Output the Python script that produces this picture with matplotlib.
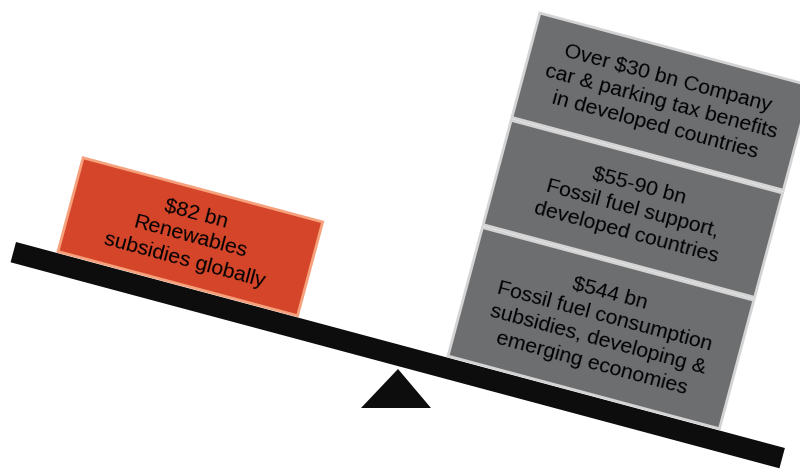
import numpy as np
import matplotlib
matplotlib.use("Agg")
import matplotlib.pyplot as plt
from matplotlib.patches import Polygon

# Labels for the two sides of the scale
left_labels = ["$82 bn\nRenewables\nsubsidies globally"]
right_labels = [
    "$544 bn\nFossil fuel consumption\nsubsidies, developing &\nemerging economies",
    "$55-90 bn\nFossil fuel support,\ndeveloped countries",
    "Over $30 bn Company\ncar & parking tax benefits\nin developed countries",
]

TILT = 15.0  # degrees the beam tips down to the right
ORANGE = "#d4452a"
ORANGE_EDGE = "#f6a07c"
GREY = "#6d6e70"
GREY_EDGE = "#d4d4d4"

theta = np.deg2rad(TILT)
u = np.array([np.cos(theta), np.sin(theta)])      # along the beam (pixel coords, y down)
up = np.array([np.sin(theta), -np.cos(theta)])    # perpendicular, pointing up


def tilted_box(origin, width, height):
    o = np.asarray(origin, float)
    return np.array([o, o + u * width, o + u * width + up * height, o + up * height])


fig = plt.figure(figsize=(8, 4.69), dpi=100)
ax = fig.add_axes([0, 0, 1, 1])
ax.set_xlim(0, 800)
ax.set_ylim(469, 0)
ax.axis("off")

font = dict(family=["Liberation Sans", "DejaVu Sans"], fontsize=15.3, color="#000000",
            rotation=-TILT, rotation_mode="anchor", ha="center", va="center",
            linespacing=1.36)

# beam
beam_start = np.array([16.0, 242.0])
beam = tilted_box(beam_start, 796, -21)
ax.add_patch(Polygon(beam, closed=True, facecolor="#0d0d0d", edgecolor="none", zorder=2))

# fulcrum
ax.add_patch(Polygon([[361, 408], [431, 408], [398, 369]], closed=True,
                     facecolor="#0d0d0d", edgecolor="none", zorder=1))

# renewables block
o = np.array([58.0, 251.5])
w, h = 248, 97
ax.add_patch(Polygon(tilted_box(o, w, h), closed=True, facecolor=ORANGE,
                     edgecolor=ORANGE_EDGE, linewidth=2, zorder=3))
c = o + u * w / 2 + up * h / 2
ax.text(c[0], c[1], left_labels[0], zorder=4, **font)

# fossil stack
base = np.array([448.0, 356.0])
w = 281
heights = [133, 108, 108]
gap = 3
offset = 0.0
for lab, hh in zip(right_labels, heights):
    o = base + up * offset
    ax.add_patch(Polygon(tilted_box(o, w, hh), closed=True, facecolor=GREY,
                         edgecolor=GREY_EDGE, linewidth=2, zorder=3))
    c = o + u * w / 2 + up * hh / 2
    ax.text(c[0], c[1], lab, zorder=4, **font)
    offset += hh + gap

fig.savefig("out.png", dpi=100, facecolor="white")
